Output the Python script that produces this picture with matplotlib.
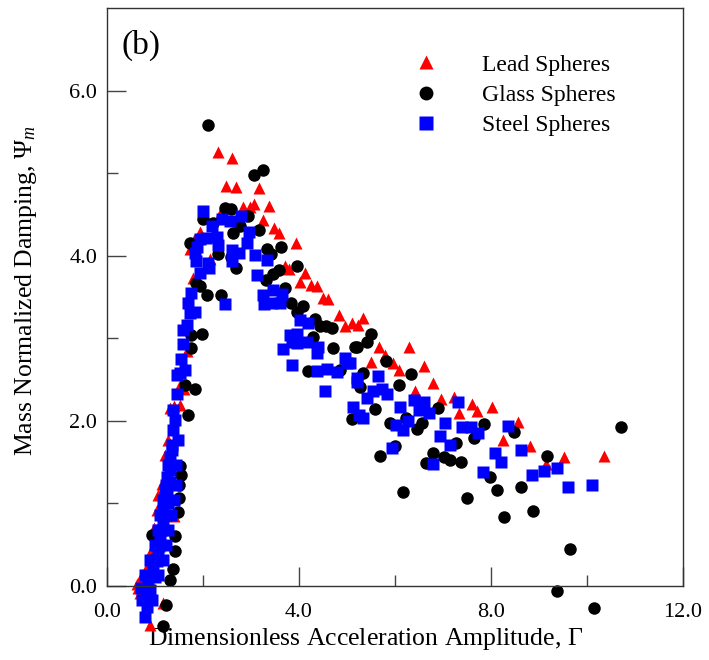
import matplotlib
matplotlib.use("Agg")
from matplotlib import pyplot as plt
from matplotlib.lines import Line2D

plt.rcParams['font.family'] = 'Liberation Serif'
plt.rcParams['mathtext.fontset'] = 'custom'
plt.rcParams['mathtext.rm'] = 'Liberation Serif'
plt.rcParams['mathtext.it'] = 'Liberation Serif:italic'

# Lead spheres (red triangles)
lead_x = [2.31, 2.60, 2.47, 2.68, 3.16, 2.84, 2.98, 3.07, 3.38, 3.26, 2.35, 1.93, 3.48, 3.58,
          3.93, 1.73, 1.82, 2.15, 3.71, 3.79, 4.13, 4.02, 1.79, 4.26, 4.38, 4.51, 4.61, 4.84,
          4.96, 5.11, 5.22, 5.33, 5.67, 5.80, 6.30, 5.49, 5.95, 6.08, 6.60, 6.42, 6.80, 6.96,
          7.22, 7.33, 7.60, 7.71, 8.03, 8.24, 8.56, 8.81, 9.15, 9.52, 10.35,
          0.64, 0.70, 0.93, 1.04, 1.14, 1.39, 1.31, 1.40, 1.52, 1.52, 1.66, 0.90, 1.17, 0.69,
          0.73, 0.85, 1.06, 1.21, 1.27, 1.60, 0.98, 0.62]
lead_y = [5.26, 5.18, 4.84, 4.83, 4.82, 4.59, 4.59, 4.63, 4.60, 4.43, 4.51, 4.29, 4.33, 4.28,
          4.16, 4.08, 4.19, 3.96, 3.87, 3.84, 3.79, 3.68, 3.73, 3.64, 3.63, 3.49, 3.48, 3.28,
          3.15, 3.18, 3.16, 3.24, 2.89, 2.80, 2.89, 2.71, 2.70, 2.61, 2.66, 2.36, 2.46, 2.27,
          2.29, 2.10, 2.21, 2.12, 2.17, 1.77, 1.99, 1.70, 1.48, 1.56, 1.58,
          -0.02, 0.07, 0.45, 0.92, 1.24, 0.85, 2.15, 2.18, 2.19, 2.44, 2.84, -0.47, -0.21, -0.08,
          0.13, 0.25, 1.10, 1.59, 1.77, 2.38, 0.70, 0.03]

# Glass spheres (black circles)
glass_x = [2.11, 3.07, 3.24, 2.46, 2.58, 2.01, 2.21, 2.63, 2.77, 2.94, 3.17, 1.73, 2.32, 2.58,
           2.69, 3.33, 3.42, 3.63, 3.95, 3.46, 3.59, 3.31, 2.38, 1.94, 2.08, 3.71, 3.83, 4.09,
           3.95, 4.33, 4.44, 4.56, 4.68, 4.30, 4.71, 5.20, 5.42, 5.50, 5.81, 5.34, 6.33, 4.19,
           4.85, 5.17, 5.27, 6.08, 5.58, 5.10, 5.90, 6.23, 6.45, 6.56, 6.90, 7.85, 8.47, 5.99,
           5.69, 7.27, 7.64, 6.79, 6.65, 7.02, 7.15, 7.38, 7.98, 8.12, 8.62, 9.16, 10.71, 6.17,
           7.49, 8.27, 8.88, 9.65, 9.38, 10.15,
           1.85, 1.76, 1.97, 1.74, 1.63, 1.83, 1.69, 1.53, 1.54, 1.51, 1.50, 0.94, 1.41, 1.41,
           0.93, 1.32, 1.23, 1.17, 1.38, 1.47]
glass_y = [5.58, 4.98, 5.04, 4.58, 4.57, 4.44, 4.40, 4.28, 4.36, 4.48, 4.31, 4.16, 4.02, 3.99,
           3.85, 4.08, 4.02, 4.10, 3.88, 3.78, 3.83, 3.71, 3.52, 3.63, 3.52, 3.61, 3.43, 3.39,
           3.32, 3.23, 3.15, 3.15, 3.12, 3.02, 2.88, 2.90, 2.95, 3.05, 2.72, 2.58, 2.57, 2.60,
           2.62, 2.90, 2.41, 2.44, 2.14, 2.02, 1.97, 2.04, 1.90, 1.98, 2.16, 1.96, 1.87, 1.70,
           1.57, 1.73, 1.79, 1.61, 1.49, 1.56, 1.53, 1.50, 1.32, 1.16, 1.20, 1.58, 1.92, 1.14,
           1.06, 0.83, 0.91, 0.45, -0.06, -0.27,
           3.67, 3.04, 3.05, 2.88, 2.44, 2.39, 2.07, 1.45, 1.35, 1.22, 1.07, 0.62, 0.60, 0.42,
           0.32, 0.07, -0.23, -0.48, 0.20, 0.90]

# Steel spheres (blue squares)
steel_x = [2.01, 2.18, 2.39, 2.56, 2.79, 2.06, 1.94, 2.29, 2.32, 2.96, 2.91, 2.60, 2.74, 3.08,
           3.34, 2.60, 1.88, 1.85, 2.11, 2.13, 1.94, 3.12, 1.83, 1.76, 1.69, 2.46, 3.26, 3.46,
           3.64, 3.28, 3.43, 3.60, 4.02, 4.19, 3.95, 3.81, 3.85, 3.96, 4.17, 4.40, 4.37, 4.96,
           4.99, 3.85, 3.67, 4.37, 4.58, 4.79, 5.20, 5.65, 4.54, 5.13, 5.24, 5.06, 5.20, 5.33,
           5.41, 5.55, 5.72, 5.84, 6.10, 6.02, 6.16, 6.28, 6.40, 6.60, 6.49, 6.71, 7.04, 6.94,
           7.15, 5.93, 6.80, 7.31, 7.40, 7.59, 7.73, 8.36, 8.62, 8.08, 8.20, 7.84, 8.85, 9.10,
           9.37, 9.61, 10.10,
           1.83, 1.73, 1.66, 1.59, 1.59, 1.54, 1.63, 1.45, 1.52, 1.45, 1.38, 1.42, 1.38, 1.31,
           1.32, 1.26, 1.26, 1.28, 1.17, 1.16, 1.10, 1.08, 1.04, 0.95, 0.86, 0.83, 0.84, 0.79,
           1.21, 1.06, 0.90, 1.00, 1.15, 1.23, 1.31, 1.35,
           0.73, 0.94, 0.71, 0.79, 1.06, 0.90, 1.17, 1.00, 1.23, 1.06, 1.27, 1.10, 1.33, 1.17,
           1.40, 1.23, 1.44, 1.27, 1.44, 1.35, 1.48]
steel_y = [4.54, 4.36, 4.44, 4.42, 4.48, 4.21, 4.20, 4.23, 4.13, 4.29, 4.15, 4.07, 4.03, 4.01,
           3.95, 3.94, 4.11, 3.93, 3.91, 3.85, 3.79, 3.77, 4.03, 3.55, 3.43, 3.41, 3.53, 3.59,
           3.54, 3.41, 3.43, 3.43, 3.22, 3.18, 3.05, 3.04, 2.95, 2.94, 2.96, 2.90, 2.82, 2.76,
           2.70, 2.68, 2.87, 2.60, 2.63, 2.59, 2.52, 2.54, 2.36, 2.17, 2.07, 2.70, 2.47, 2.04,
           2.28, 2.36, 2.38, 2.33, 2.17, 1.95, 1.89, 2.00, 2.25, 2.23, 2.13, 2.10, 1.98, 1.82,
           1.71, 1.67, 1.48, 2.23, 1.93, 1.93, 1.85, 1.94, 1.65, 1.61, 1.50, 1.38, 1.35, 1.39,
           1.43, 1.20, 1.22,
           3.32, 3.31, 3.16, 3.10, 2.93, 2.75, 2.62, 2.56, 2.58, 2.32, 2.13, 2.01, 1.89, 1.56,
           1.41, 1.32, 1.09, 1.00, 0.91, 0.76, 0.60, 0.48, 0.30, 0.18, 0.04, -0.11, -0.25, -0.37,
           1.16, 0.38, -0.05, 0.11, 0.68, 0.86, 1.26, 1.71,
           -0.17, -0.17, -0.02, 0.13, 0.13, 0.32, 0.32, 0.50, 0.50, 0.68, 0.68, 0.86, 0.86, 1.04,
           1.04, 1.22, 1.22, 1.47, 1.47, 1.65, 1.77]

fig = plt.figure(figsize=(7.09, 6.6), dpi=100)
ax = fig.add_axes([0.1509, 0.1121, 0.8124, 0.8758])

ax.plot(lead_x, lead_y, '^', color='#ff0000', ms=9, mec='none', clip_on=False)
ax.plot(glass_x, glass_y, 'o', color='black', ms=9, mec='none', clip_on=False)
ax.plot(steel_x, steel_y, 's', color='#0000ff', ms=9, mec='none', clip_on=False)

ax.set_xlim(0, 12)
ax.set_ylim(0, 7)
ax.set_xticks([0, 4, 8, 12])
ax.set_xticklabels(['0.0', '4.0', '8.0', '12.0'])
ax.set_xticks([2, 6, 10], minor=True)
ax.set_yticks([0, 2, 4, 6])
ax.set_yticklabels(['0.0', '2.0', '4.0', '6.0'])
ax.set_yticks([1, 3, 5], minor=True)
ax.tick_params(which='major', direction='in', length=14, width=1, labelsize=16, color='#444444')
ax.tick_params(which='minor', direction='in', length=8, width=1, color='#444444')
ax.tick_params(axis='x', which='major', pad=12)
ax.tick_params(axis='y', which='major', pad=7)
for s in ax.spines.values():
    s.set_color('#333333')
    s.set_linewidth(1)

ax.set_xlabel(r'Dimensionless Acceleration Amplitude, $\Gamma$', fontsize=18.5)
ax.set_ylabel(r'Mass Normalized Damping, $\Psi_m$', fontsize=18.5)
ax.xaxis.set_label_coords(0.448, -0.07)
ax.yaxis.set_label_coords(-0.118, 0.512)

ax.text(0.025, 0.962, '(b)', transform=ax.transAxes, fontsize=24, va='top', ha='left')

handles = [Line2D([], [], ls='none', marker='^', color='#ff0000', ms=10, mec='none'),
           Line2D([], [], ls='none', marker='o', color='black', ms=10, mec='none'),
           Line2D([], [], ls='none', marker='s', color='#0000ff', ms=10, mec='none')]
ax.legend(handles, ['Lead Spheres', 'Glass Spheres', 'Steel Spheres'], loc='upper left',
          bbox_to_anchor=(0.533, 0.92), frameon=False, fontsize=17, handlelength=1.0,
          handletextpad=1.9, labelspacing=0.36, borderpad=0, borderaxespad=0)

plt.savefig('out.png', dpi=100)
